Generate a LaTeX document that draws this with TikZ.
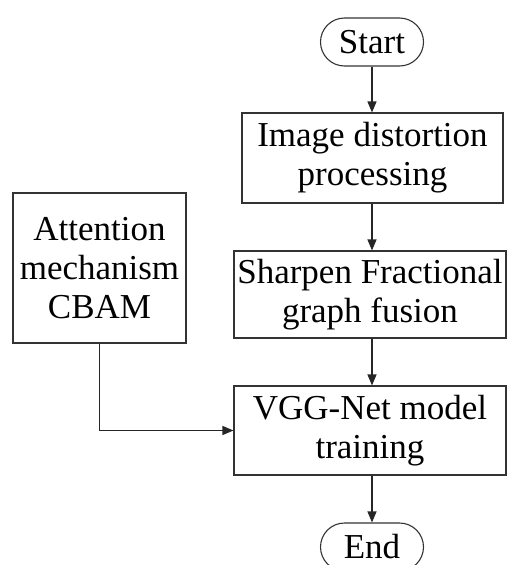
\documentclass[tikz,border=0pt]{standalone}
\usepackage{fontspec}
\setmainfont{Liberation Serif}
\usetikzlibrary{arrows.meta}
\begin{document}
\begin{tikzpicture}[x=1pt,y=-1pt,
  base/.style={draw=black!80, line width=1.1pt, align=center, inner sep=0pt,
    font=\fontsize{35}{39}\selectfont},
  procbox/.style={base, rectangle},
  termbox/.style={base, rectangle, rounded corners=24pt},
  arr/.style={draw=black!85, line width=1.2pt, -{Triangle[length=11pt,width=9pt]}}]
\useasboundingbox (0,0) rectangle (507,565);
\node[termbox, minimum width=103pt, minimum height=48pt] (start) at (372,42) {Start};
\node[procbox, minimum width=261pt, minimum height=90pt] (img) at (372.5,158) {Image distortion\\processing};
\node[procbox, minimum width=173pt, minimum height=150pt] (att) at (99.5,268) {Attention\\mechanism\\CBAM};
\node[procbox, minimum width=272pt, minimum height=87pt] (sharp) at (370,294.5) {Sharpen Fractional\\graph fusion};
\node[procbox, minimum width=272pt, minimum height=89pt] (vgg) at (370,430.5) {VGG-Net model\\training};
\node[termbox, minimum width=103pt, minimum height=48pt] (end) at (372,547) {End};
\draw[arr] (start.south) -- (start.south |- img.north);
\draw[arr] (start.south |- img.south) -- (start.south |- sharp.north);
\draw[arr] (start.south |- sharp.south) -- (start.south |- vgg.north);
\draw[arr] (start.south |- vgg.south) -- (end.north);
\draw[arr] (att.south) |- (vgg.west);
\end{tikzpicture}
\end{document}
